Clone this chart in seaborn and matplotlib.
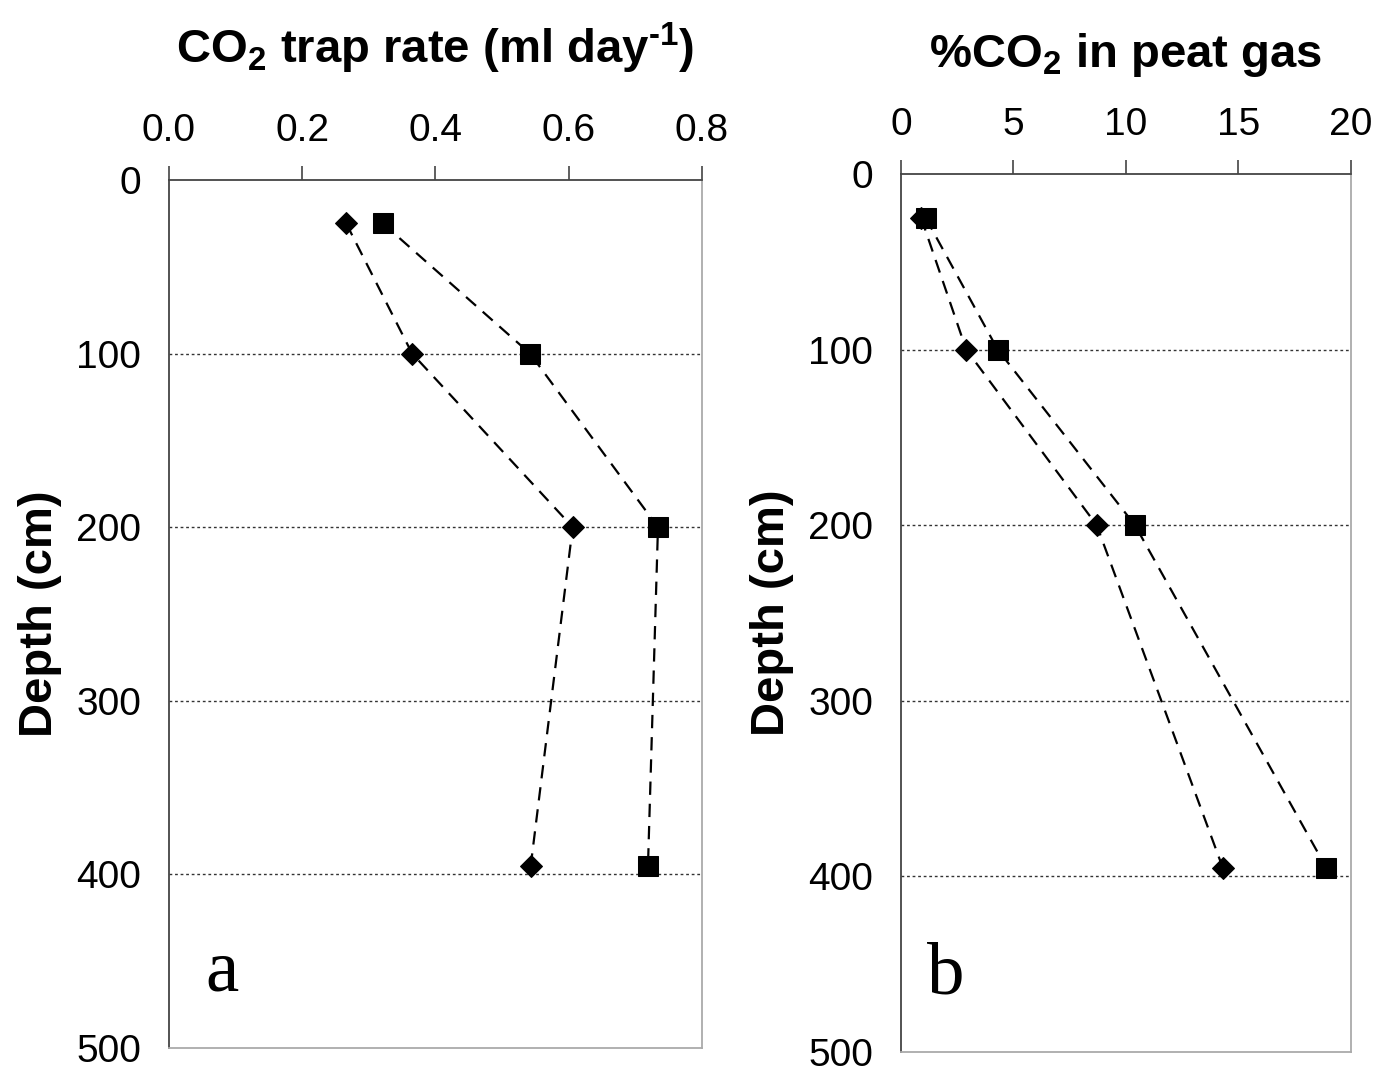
import numpy as np
import pandas as pd
import matplotlib
matplotlib.use("Agg")
import matplotlib.pyplot as plt
import seaborn as sns

# depth of the sampling points (cm)
depth = [25, 100, 200, 395]

# panel a: CO2 trap rate (ml day-1)
trap_diamond = [0.266, 0.365, 0.606, 0.543]
trap_square = [0.321, 0.542, 0.734, 0.719]

# panel b: %CO2 in peat gas
pct_diamond = [0.9, 2.9, 8.7, 14.3]
pct_square = [1.1, 4.3, 10.4, 18.9]

trap_ticks = [0.0, 0.2, 0.4, 0.6, 0.8]
pct_ticks = [0, 5, 10, 15, 20]
depth_ticks = [0, 100, 200, 300, 400, 500]

sns.set_style("white")
plt.rcParams['font.family'] = ['Liberation Sans', 'DejaVu Sans']
plt.rcParams['mathtext.fontset'] = 'custom'
plt.rcParams['mathtext.rm'] = 'Liberation Sans:bold'
plt.rcParams['mathtext.bf'] = 'Liberation Sans:bold'
plt.rcParams['text.color'] = 'black'
plt.rcParams['axes.labelcolor'] = 'black'

fig = plt.figure(figsize=(13.78, 10.70), dpi=100)
ax_a = fig.add_axes([0.1226, 0.0206, 0.3868, 0.8112])
ax_b = fig.add_axes([0.6538, 0.0168, 0.3266, 0.8206])


def draw_panel(ax, xd, xs, xticks, xfmt, title, letter, title_pad):
    df_d = pd.DataFrame({"x": xd, "depth": depth})
    df_s = pd.DataFrame({"x": xs, "depth": depth})
    for d in [100, 200, 300, 400]:
        ax.axhline(d, color="#333333", lw=1.0, ls=(0, (2, 2)), zorder=1)
    sns.lineplot(data=df_d, x="x", y="depth", sort=False, orient="y", ax=ax,
                 color="black", lw=1.6, dashes=False, linestyle=(0, (6, 4)),
                 marker="D", markersize=11, markeredgecolor="black", zorder=3)
    sns.lineplot(data=df_s, x="x", y="depth", sort=False, orient="y", ax=ax,
                 color="black", lw=1.6, dashes=False, linestyle=(0, (6, 4)),
                 marker="s", markersize=14, markeredgecolor="black", zorder=3)
    ax.set_xlim(xticks[0], xticks[-1])
    ax.set_ylim(500, 0)
    ax.set_xticks(xticks)
    ax.set_xticklabels([xfmt.format(v) for v in xticks])
    ax.set_yticks(depth_ticks)
    ax.xaxis.tick_top()
    ax.xaxis.set_label_position("top")
    ax.tick_params(axis="x", direction="out", length=10, width=1.2,
                   colors="#444444", labelcolor="black", labelsize=28, pad=12)
    ax.tick_params(axis="y", direction="out", length=10, width=1.2,
                   colors="#444444", labelcolor="black", labelsize=28, pad=10)
    ax.set_xlabel(title, fontsize=34, fontweight="bold", labelpad=title_pad)
    ax.set_ylabel("Depth (cm)", fontsize=34, fontweight="bold", labelpad=10)
    for side in ["left", "top"]:
        ax.spines[side].set_color("#444444")
        ax.spines[side].set_linewidth(1.3)
    for side in ["right", "bottom"]:
        ax.spines[side].set_color("#aaaaaa")
        ax.spines[side].set_linewidth(1.3)
    ax.text(0.1, 0.087, letter, transform=ax.transAxes, fontsize=54,
            family="Liberation Serif", ha="center", va="center")


draw_panel(ax_a, trap_diamond, trap_square, trap_ticks, "{:.1f}",
           r"CO$_\mathbf{2}$ trap rate (ml day$^{\text{-1}}$)", "a", 36)
draw_panel(ax_b, pct_diamond, pct_square, pct_ticks, "{:d}",
           r"%CO$_\mathbf{2}$ in peat gas", "b", 29)

fig.savefig("out.png", dpi=100)
